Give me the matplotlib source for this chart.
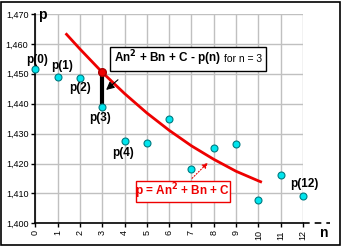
import matplotlib.pyplot as plt
from matplotlib.patches import Rectangle

plt.rcParams["font.family"] = ["Liberation Sans", "DejaVu Sans"]

# 観測値 p(n)
n_vals = [0, 1, 2, 3, 4, 5, 6, 7, 8, 9, 10, 11, 12]
p_vals = [1451.7, 1448.9, 1448.6, 1438.9, 1427.5, 1426.7, 1434.8,
          1418.1, 1425.2, 1426.4, 1407.7, 1416.2, 1409.1]

# 二次曲線 p = An^2 + Bn + C（図から読んだ値）
curve_n = [1.4, 2, 3, 4, 5, 6, 7, 8, 9, 10, 10.1]
curve_p = [1463.2, 1458.3, 1450.5, 1443.4, 1436.9, 1431.1, 1425.9,
           1421.4, 1417.4, 1414.2, 1413.9]

point_labels = ["p(0)", "p(1)", "p(2)", "p(3)", "p(4)", "p(12)"]
label_pos = [(37.5, 60), (62, 65.5), (80, 87.5), (100, 118), (123, 153), (304, 184)]
yticks = [1400, 1410, 1420, 1430, 1440, 1450, 1460, 1470]
ytick_labels = ["1,400", "1,410", "1,420", "1,430", "1,440", "1,450", "1,460", "1,470"]

W, H = 342, 246
fig = plt.figure(figsize=(W / 100, H / 100), dpi=100)
fig.patches.append(Rectangle((1 / W, 1 / H), (W - 3) / W, (H - 3) / H,
                             transform=fig.transFigure, fill=False,
                             edgecolor="black", linewidth=1.2))

ax = fig.add_axes([35.3 / W, (H - 223.3) / H, (303 - 35.3) / W, (223.3 - 14) / H])
ax.set_xlim(0, 12)
ax.set_ylim(1400, 1470)

# グリッド
for x in n_vals:
    ax.axvline(x, color="#c0c0c0", lw=1, zorder=0)
for y in yticks:
    ax.axhline(y, color="#c0c0c0", lw=1, zorder=0)

for s in ["top", "right"]:
    ax.spines[s].set_visible(False)
ax.spines["left"].set_linewidth(1.2)
ax.spines["bottom"].set_linewidth(1.2)

ax.set_xticks(n_vals)
ax.set_xticklabels([str(v) for v in n_vals], rotation=90, fontsize=6.5)
ax.set_yticks(yticks)
ax.set_yticklabels(ytick_labels, fontsize=6.5)
ax.tick_params(axis="both", length=3, width=1, pad=2)

# x軸の延長（破線）
ax.plot([12, 13.2], [1400, 1400], color="black", lw=1.2, ls=(0, (4, 3)), clip_on=False)
fig.text(324 / W, 1 - 233 / H, "n", fontsize=10, fontweight="bold", ha="center", va="center")
fig.text(42 / W, 1 - 15 / H, "p", fontsize=10, fontweight="bold", ha="center", va="center")

# 曲線
ax.plot(curve_n, curve_p, color="#ee0000", lw=2, zorder=3)

# n = 3 の残差
ax.plot([3, 3], [p_vals[3], curve_p[2]], color="black", lw=3, zorder=4)
ax.plot(3, curve_p[2], "o", color="#ee0000", mec="#aa0000", ms=5.5, zorder=6)

# データ点
ax.plot(n_vals, p_vals, "o", ms=5, mfc="#00e5ee", mec="#007a80", mew=0.8,
        ls="none", zorder=5, clip_on=False)

for lab, (px, py) in zip(point_labels, label_pos):
    fig.text(px / W, 1 - py / H, lab, fontsize=8.5, fontweight="bold",
             ha="center", va="center")

# 注釈ボックス（黒）
fig.patches.append(Rectangle((110 / W, 1 - 71 / H), 156 / W, 24 / H,
                             transform=fig.transFigure, fc="white",
                             ec="black", lw=1, zorder=5))
fig.text(114 / W, 1 - 58.5 / H, r"An$^\mathbf{2}$ + Bn + C - p(n)", fontsize=8.5,
         fontweight="bold", ha="left", va="center", zorder=6)
fig.text(262 / W, 1 - 58.5 / H, "for n = 3", fontsize=7.5,
         ha="right", va="center", zorder=6)
ax.annotate("", xy=(3.08, 1444.0), xytext=(3.8, 1448.6),
            arrowprops=dict(arrowstyle="-|>", color="black", lw=0.8,
                            mutation_scale=12), zorder=7)

# 注釈ボックス（赤）
fig.patches.append(Rectangle((136 / W, 1 - 202 / H), 94 / W, 21 / H,
                             transform=fig.transFigure, fc="white",
                             ec="#ee0000", lw=1, zorder=5))
fig.text(183 / W, 1 - 191.5 / H, r"p = An$^\mathbf{2}$ + Bn + C", fontsize=8.5,
         fontweight="bold", color="#ee0000", ha="center", va="center", zorder=6)
ax.annotate("", xy=(7.82, 1420.9), xytext=(6.94, 1414.4),
            arrowprops=dict(arrowstyle="-|>", color="#ee0000", lw=0.8,
                            ls=":", mutation_scale=8), zorder=7)

fig.savefig("out.png", dpi=100)
